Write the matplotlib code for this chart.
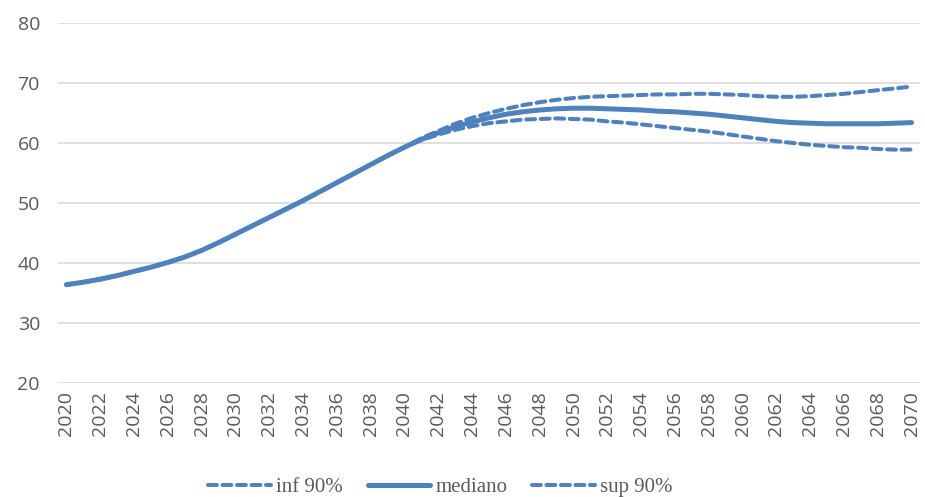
import matplotlib.pyplot as plt
import numpy as np

years = list(range(2020, 2071))

mediano = [36.4, 36.8, 37.3, 37.9, 38.6, 39.3, 40.1, 41.0, 42.1, 43.4,
           44.8, 46.2, 47.6, 49.0, 50.4, 51.9, 53.4, 54.9, 56.4, 57.9,
           59.3, 60.6, 61.7, 62.7, 63.5, 64.2, 64.8, 65.2, 65.5, 65.7,
           65.8, 65.8, 65.7, 65.6, 65.5, 65.3, 65.2, 65.0, 64.8, 64.5,
           64.2, 63.9, 63.6, 63.4, 63.3, 63.2, 63.2, 63.2, 63.2, 63.3,
           63.4]

inf_90 = mediano[:21] + [
    60.5, 61.4, 62.2, 62.8, 63.3, 63.6, 63.9, 64.0, 64.1,
    64.0, 63.9, 63.6, 63.4, 63.1, 62.8, 62.5, 62.2, 61.9, 61.5,
    61.1, 60.7, 60.3, 60.0, 59.7, 59.5, 59.3, 59.2, 59.0, 58.9,
    58.9]

sup_90 = mediano[:21] + [
    60.8, 62.0, 63.2, 64.2, 65.0, 65.7, 66.3, 66.8, 67.2,
    67.5, 67.7, 67.8, 67.9, 68.0, 68.1, 68.1, 68.2, 68.2, 68.1,
    68.0, 67.8, 67.7, 67.7, 67.8, 68.0, 68.2, 68.5, 68.8, 69.1,
    69.4]

blue = "#4F81BD"

fig = plt.figure(figsize=(9.25, 4.97), dpi=100)
ax = fig.add_axes([58 / 925, 1 - 383 / 497, (920 - 58) / 925, 360 / 497])

ax.plot(years, mediano, color=blue, lw=3.6, solid_capstyle="round",
        label="mediano", zorder=3)
ax.plot(years, inf_90, color=blue, lw=2.9, ls=(0, (2.2, 1.4)),
        dash_capstyle="round", label="inf 90%", zorder=4)
ax.plot(years, sup_90, color=blue, lw=2.9, ls=(0, (2.2, 1.4)),
        dash_capstyle="round", label="sup 90%", zorder=4)

ax.set_xlim(2019.5, 2070.5)
ax.set_ylim(20, 80)
ax.set_yticks(range(20, 81, 10))
ax.set_xticks(years[::2])
ax.set_xticklabels([str(y) for y in years[::2]], rotation=90)

ax.grid(axis="y", color="#D9D9D9", lw=1.2)
ax.set_axisbelow(True)
for s in ax.spines.values():
    s.set_visible(False)
ax.tick_params(length=0, labelsize=14, labelcolor="#595959", pad=6,
               labelfontfamily="Open Sans")
ax.tick_params(axis="y", pad=13)

handles, labels = ax.get_legend_handles_labels()
order = [1, 0, 2]
fig.legend([handles[i] for i in order], [labels[i] for i in order],
           loc="center", bbox_to_anchor=(0.476, 0.02), ncol=3,
           frameon=False, handlelength=3.0, handletextpad=0.25,
           columnspacing=1.2,
           prop={"family": "Liberation Serif", "size": 15},
           labelcolor="#595959")

fig.savefig("out.png", dpi=100)
